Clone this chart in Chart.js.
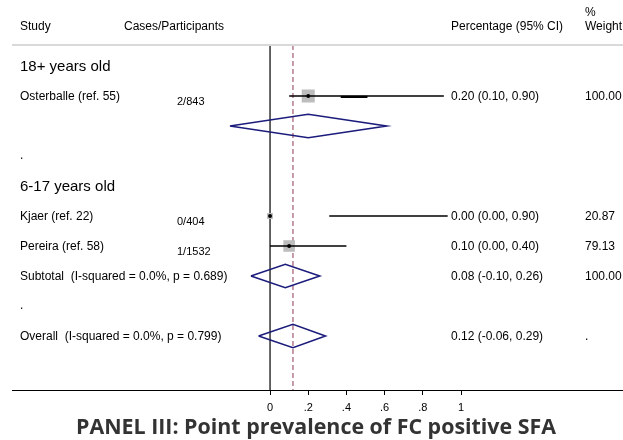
<!DOCTYPE html>
<html>
<head>
<meta charset="utf-8">
<script src="https://cdn.jsdelivr.net/npm/chart.js@4.4.2/dist/chart.umd.min.js"></script>
<style>
  html, body { margin: 0; padding: 0; background: #fff; }
  canvas { display: block; }
</style>
</head>
<body>
<canvas id="forest" width="623" height="440"></canvas>
<script>
// Study rows (row 1 is the first line under the header)
const studyNames = ['Osterballe (ref. 55)', 'Kjaer (ref. 22)', 'Pereira (ref. 58)'];
const studyRows = [2, 6, 7];
const studyCases = ['2/843', '0/404', '1/1532'];
const studyEst = [0.20, 0.00, 0.10];
const studyLineLow = [0.10, 0.31, 0.00];   // CI whiskers as drawn
const studyLineHigh = [0.91, 0.93, 0.40];
const studyCiText = ['0.20 (0.10, 0.90)', '0.00 (0.00, 0.90)', '0.10 (0.00, 0.40)'];
const studyWeights = [100.00, 20.87, 79.13];

// Pooled diamonds
const poolLabels = ['', 'Subtotal  (I-squared = 0.0%, p = 0.689)', 'Overall  (I-squared = 0.0%, p = 0.799)'];
const poolRows = [3, 8, 10];
const poolEst = [0.20, 0.08, 0.12];
const poolLow = [-0.21, -0.10, -0.06];
const poolHigh = [0.61, 0.26, 0.29];
const poolCiText = ['', '0.08 (-0.10, 0.26)', '0.12 (-0.06, 0.29)'];
const poolWeightText = ['', '100.00', '.'];

const groupLabels = ['18+ years old', '6-17 years old'];
const groupRows = [1, 5];
const spacerRows = [4, 9];

const overallEst = 0.12;
const xTicks = [0, 0.2, 0.4, 0.6, 0.8, 1];

const FONT = "'Liberation Sans', Arial, sans-serif";
const NAVY = '#1c1c7c';

// whiskers
const ciSets = studyRows.map((r, i) => ({
  data: [{x: studyLineLow[i], y: r}, {x: studyLineHigh[i], y: r}],
  showLine: true, borderColor: '#000', borderWidth: 1.5, pointRadius: 0
}));

// diamonds
const diamondSets = poolRows.map((r, i) => ({
  data: [
    {x: poolLow[i], y: r}, {x: poolEst[i], y: r - 0.39},
    {x: poolHigh[i], y: r}, {x: poolEst[i], y: r + 0.39},
    {x: poolLow[i], y: r}
  ],
  showLine: true, borderColor: NAVY, borderWidth: 1.6, pointRadius: 0,
  tension: 0
}));

const datasets = [
  {
    data: studyRows.map((r, i) => ({x: studyEst[i], y: r})),
    pointStyle: 'circle', pointRadius: 2, backgroundColor: '#000',
    borderWidth: 0
  },
  // thick artefact on Osterballe whisker
  {
    data: [{x: 0.37, y: 2.03}, {x: 0.51, y: 2.03}],
    showLine: true, borderColor: '#000', borderWidth: 2.2, pointRadius: 0
  },
  ...ciSets,
  {
    data: studyRows.map((r, i) => ({x: studyEst[i], y: r})),
    pointStyle: 'rect',
    pointRadius: studyWeights.map(w => 0.92 * Math.sqrt(w)),
    backgroundColor: '#bdbdbd', borderWidth: 0
  },
  ...diamondSets,
  {
    data: [{x: overallEst, y: 0.3}, {x: overallEst, y: 11.8}],
    showLine: true, borderColor: '#a86878', borderWidth: 1.3,
    borderDash: [5, 3], pointRadius: 0
  },
  {
    data: [{x: 0, y: 0.3}, {x: 0, y: 11.8}],
    showLine: true, borderColor: '#000', borderWidth: 1.2, pointRadius: 0
  }
];

const textPlugin = {
  id: 'forestText',
  afterDraw(chart) {
    const ctx = chart.ctx;
    const y = chart.scales.y;
    const area = chart.chartArea;
    ctx.save();

    // header rule
    ctx.strokeStyle = '#d9d9d9';
    ctx.lineWidth = 2;
    ctx.beginPath();
    ctx.moveTo(area.left, area.top);
    ctx.lineTo(area.right, area.top);
    ctx.stroke();

    ctx.fillStyle = '#000';
    ctx.textBaseline = 'middle';
    ctx.textAlign = 'left';
    ctx.font = '12px ' + FONT;
    ctx.fillText('Study', 20, 27);
    ctx.fillText('Cases/Participants', 124, 27);
    ctx.fillText('Percentage (95% CI)', 451, 27);
    ctx.fillText('%', 585, 13);
    ctx.fillText('Weight', 585, 27);

    ctx.font = '15px ' + FONT;
    groupLabels.forEach((t, i) => ctx.fillText(t, 20, y.getPixelForValue(groupRows[i]) + 1));

    ctx.font = '12px ' + FONT;
    spacerRows.forEach(r => ctx.fillText('.', 20, y.getPixelForValue(r)));

    studyRows.forEach((r, i) => {
      const py = y.getPixelForValue(r) + 1;
      ctx.font = '12px ' + FONT;
      ctx.fillText(studyNames[i], 20, py);
      ctx.fillText(studyCiText[i], 451, py);
      ctx.fillText(studyWeights[i].toFixed(2), 585, py);
      ctx.font = '11px ' + FONT;
      ctx.fillText(studyCases[i], 177, py + 5);
    });

    ctx.font = '12px ' + FONT;
    poolRows.forEach((r, i) => {
      const py = y.getPixelForValue(r) + 1;
      if (poolLabels[i]) ctx.fillText(poolLabels[i], 20, py);
      if (poolCiText[i]) ctx.fillText(poolCiText[i], 451, py);
      if (poolWeightText[i]) ctx.fillText(poolWeightText[i], 585, py);
    });

    // panel title
    ctx.fillStyle = '#333';
    ctx.textAlign = 'center';
    ctx.font = "bold 21.4px 'Open Sans', 'Noto Sans', sans-serif";
    ctx.fillText('PANEL III: Point prevalence of FC positive SFA', 316, 428);
    ctx.restore();
  }
};

new Chart(document.getElementById('forest'), {
  type: 'scatter',
  data: {datasets},
  options: {
    responsive: false,
    animation: false,
    devicePixelRatio: 1,
    layout: {autoPadding: false, padding: {top: 45, left: 12, right: 0, bottom: 0}},
    plugins: {legend: {display: false}, tooltip: {enabled: false}},
    scales: {
      x: {
        type: 'linear',
        min: -1.351,
        max: 1.848,
        position: 'bottom',
        afterBuildTicks: s => { s.ticks = xTicks.map(v => ({value: v})); },
        afterFit: s => { s.height = 50; },
        ticks: {
          autoSkip: false,
          maxRotation: 0,
          padding: 6,
          color: '#000',
          font: {family: FONT, size: 11},
          callback: v => (v === 0 || v === 1) ? String(v) : String(v).replace('0.', '.')
        },
        grid: {drawOnChartArea: false, drawTicks: true, tickLength: 5, color: '#000'},
        border: {display: true, color: '#000', width: 1}
      },
      y: {
        type: 'linear',
        min: 0.3,
        max: 11.8,
        reverse: true,
        display: false
      }
    }
  },
  plugins: [textPlugin]
});
</script>
</body>
</html>
